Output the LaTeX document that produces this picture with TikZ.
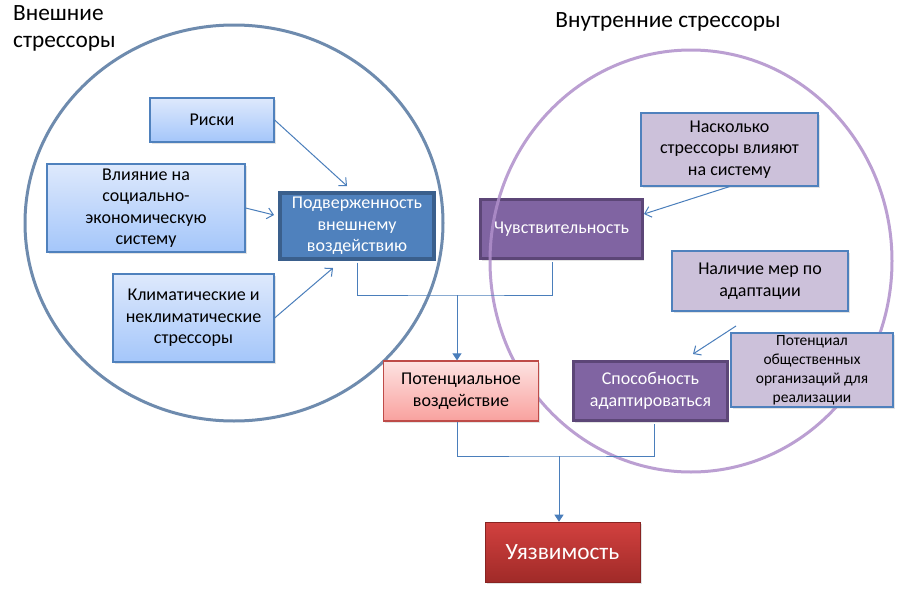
\documentclass[tikz,border=0pt]{standalone}
\usepackage{fontspec}
\setmainfont{Carlito}
\usetikzlibrary{arrows.meta,shadows}
\definecolor{conncol}{HTML}{4A7EBB}
\definecolor{leftcirc}{HTML}{6E8BAE}
\definecolor{rightcirc}{HTML}{B08FCB}
\definecolor{bluetop}{HTML}{DEE9FC}
\definecolor{bluebot}{HTML}{A4C6FA}
\definecolor{blueedge}{HTML}{4F81BD}
\definecolor{darkblue}{HTML}{4F81BD}
\definecolor{darkblueedge}{HTML}{3A5F8C}
\definecolor{violet}{HTML}{8064A2}
\definecolor{violetedge}{HTML}{5C4677}
\definecolor{lilac}{HTML}{CCC1DA}
\definecolor{pinktop}{HTML}{FDE3E2}
\definecolor{pinkbot}{HTML}{F9A19E}
\definecolor{pinkedge}{HTML}{BE4B48}
\definecolor{redtop}{HTML}{D2413F}
\definecolor{redbot}{HTML}{A02A28}
\tikzset{
  boxbase/.style={rectangle, align=center, inner sep=2pt,
    font=\fontsize{18}{21.5}\selectfont,
    drop shadow={opacity=0.22, shadow xshift=1.5pt, shadow yshift=-2pt}},
  lightblue/.style={boxbase, draw=blueedge, line width=1.2pt, top color=bluetop, bottom color=bluebot},
  mainblue/.style={boxbase, draw=darkblueedge, line width=3.5pt, fill=darkblue, text=white},
  mainviolet/.style={boxbase, draw=violetedge, line width=3.5pt, fill=violet, text=white},
  lilacbox/.style={boxbase, draw=blueedge, line width=1.2pt, fill=lilac},
  pinkbox/.style={boxbase, draw=pinkedge, line width=1.2pt, top color=pinktop, bottom color=pinkbot},
  redbox/.style={boxbase, draw=redbot!85!black, line width=0.6pt, top color=redtop, bottom color=redbot, text=white,
    font=\fontsize{23.3}{27}\selectfont},
  conn/.style={draw=conncol, line width=1pt},
  openarrow/.style={conn, -{Straight Barb[length=6pt,width=11pt]}},
  fillarrow/.style={conn, -{Triangle[length=7pt,width=9pt]}},
  titletext/.style={font=\fontsize{23.3}{27.5}\selectfont, align=left, inner sep=0pt}
}
\begin{document}
\begin{tikzpicture}[x=1pt,y=-1pt]
\useasboundingbox[fill=white] (0,0) rectangle (898,592);

% left circle
\draw[draw=leftcirc, line width=3pt] (234,223) ellipse [x radius=209pt, y radius=198pt];

% titles
\node[titletext, anchor=north west] (t1) at (13,5) {Внешние\\стрессоры};
\node[titletext, anchor=center] (t2) at (668,22) {Внутренние стрессоры};

% left boxes
\node[lightblue, minimum width=124pt, minimum height=44pt] (rk) at (212,120) {Риски};
\node[lightblue, minimum width=198pt, minimum height=88pt] (vl) at (146,208) {Влияние на\\социально-\\экономическую\\систему};
\node[lightblue, minimum width=161pt, minimum height=88pt] (kl) at (193.5,318) {Климатические и\\неклиматические\\стрессоры};
\node[mainblue, minimum width=154pt, minimum height=66pt] (pod) at (357,226) {Подверженность\\внешнему\\воздействию};

% right dark boxes
\node[mainviolet, minimum width=162pt, minimum height=59pt] (chv) at (561.5,229) {Чувствительность};
\node[mainviolet, minimum width=154pt, minimum height=59pt] (spo) at (650.5,391) {Способность\\адаптироваться};

% right circle
\draw[draw=rightcirc, draw opacity=0.85, line width=3pt] (691,261) ellipse [x radius=201pt, y radius=211pt];

% right lilac boxes
\node[lilacbox, minimum width=177pt, minimum height=73pt] (nsk) at (729.5,149.5) {Насколько\\стрессоры влияют\\на систему};
\node[lilacbox, minimum width=176pt, minimum height=60pt] (nal) at (760,281) {Наличие мер по\\адаптации};
\node[lilacbox, minimum width=162pt, minimum height=74pt, font=\fontsize{15.5}{19}\selectfont] (pob) at (812,370) {Потенциал\\общественных\\организаций для\\реализации};

% bottom boxes
\node[pinkbox, minimum width=155pt, minimum height=60pt] (pot) at (461,391) {Потенциальное\\воздействие};
\node[redbox, minimum width=155pt, minimum height=60pt] (uyz) at (562.5,552) {Уязвимость};

% coordinates
\coordinate (a1) at (347,186);
\coordinate (a2) at (274,215);
\coordinate (a3) at (333,268);
\coordinate (a4) at (644,214);
\coordinate (b1) at (736,326);
\coordinate (b2) at (693,354);
\coordinate (j1) at (457,295);
\coordinate (j2) at (559,456);

% connectors
\draw[openarrow] (rk.east) -- (a1);
\draw[openarrow] (vl.east) -- (a2);
\draw[openarrow] (kl.east) -- (a3);
\draw[openarrow] (nsk.south) -- (a4);
\draw[openarrow] (b1) -- (b2);

\draw[conn] ([yshift=-1.75pt]pod.south) |- (j1) -| ([xshift=-9.5pt,yshift=-1.75pt]chv.south);
\draw[fillarrow] (j1) -- (j1 |- pot.north);
\draw[conn] ([xshift=-4pt]pot.south) |- (j2) -| ([xshift=3.5pt,yshift=-1.75pt]spo.south);
\draw[fillarrow] (j2) -- (j2 |- uyz.north);
\end{tikzpicture}
\end{document}
